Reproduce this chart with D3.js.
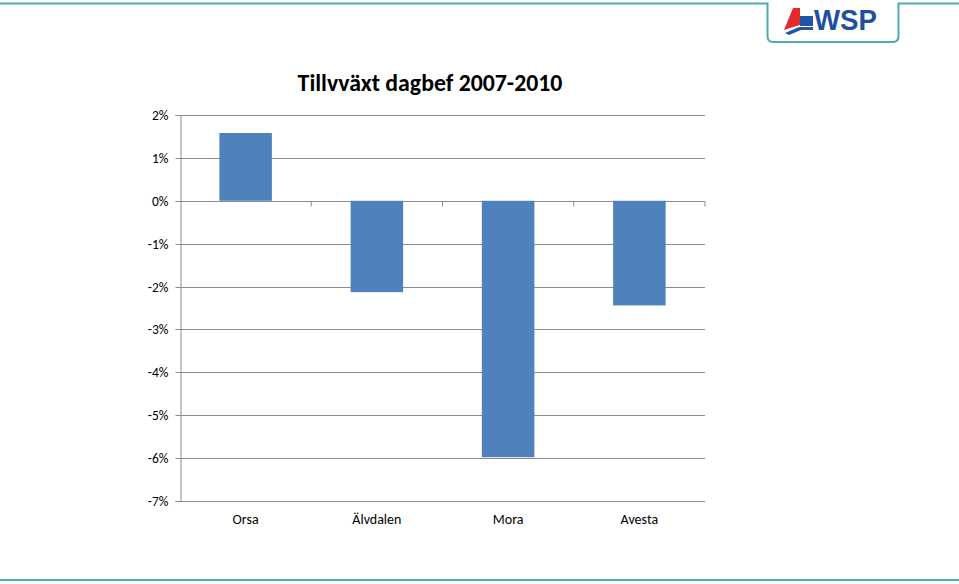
<!DOCTYPE html>
<html><head><meta charset="utf-8">
<script src="https://cdn.jsdelivr.net/npm/d3@7"></script>
<style>
body{margin:0;background:#fff;}
svg{display:block;font-family:Carlito,Lato,"Open Sans",sans-serif;}
</style></head>
<body><svg id="c" width="959" height="584"></svg>
<script>
const categories = ["Orsa","Älvdalen","Mora","Avesta"];
const values = [1.58, -2.13, -5.98, -2.44];
const yTicks = [2,1,0,-1,-2,-3,-4,-5,-6,-7];
const title = "Tillvväxt dagbef 2007-2010";

(function(){
const svg = d3.select("#c");
const pL=180, pR=705, pT=115, pB=501;
const x = d3.scaleBand().domain(categories).range([pL,pR]).paddingInner(0.6).paddingOuter(0.3);
const y = d3.scaleLinear().domain([-7,2]).range([pB,pT]);
const gridCol = "#8c8c8c";

// frame lines (top with logo tab, bottom)
const teal = "#4fa9b4";
svg.append("path").attr("d","M0,3.5 H767.5 V36 Q767.5,42 773,42 H893 Q898.5,42 898.5,36 V3.5 H959")
  .attr("fill","none").attr("stroke",teal).attr("stroke-width",2);
svg.append("line").attr("x1",0).attr("x2",959).attr("y1",580).attr("y2",580).attr("stroke",teal).attr("stroke-width",2);

// logo
const logo = svg.append("g");
logo.append("polygon").attr("points","784,30 793,8 800,8 800,25 790,28").attr("fill","#e32b2b");
logo.append("rect").attr("x",800).attr("y",16).attr("width",13).attr("height",10).attr("fill","#2156a5");
logo.append("polygon").attr("points","785,33 799,27 813,27 813,30 801,30 789,35").attr("fill","#2156a5");
logo.append("text").attr("x",814).attr("y",30).text("WSP").attr("font-family","'Liberation Sans',Arial,sans-serif")
  .attr("font-weight","bold").attr("font-size",30).attr("fill","#1f4f9f").attr("textLength",63).attr("lengthAdjust","spacingAndGlyphs");

// gridlines
svg.append("g").selectAll("line").data(yTicks).join("line")
  .attr("x1",pL).attr("x2",pR).attr("y1",d=>Math.round(y(d))+0.5).attr("y2",d=>Math.round(y(d))+0.5)
  .attr("stroke",gridCol).attr("stroke-width",1);

// y axis
const yAxis = svg.append("g").attr("transform",`translate(${pL+0.5},0)`)
  .call(d3.axisLeft(y).tickValues(yTicks).tickSize(5).tickPadding(7).tickFormat(d=>d+"%"));
yAxis.select(".domain").attr("stroke",gridCol);
yAxis.selectAll(".tick line").attr("stroke",gridCol);
yAxis.selectAll(".tick text").attr("font-family","Carlito,Lato,sans-serif").attr("font-size",13.5).attr("fill","#000");
yAxis.selectAll(".tick").attr("transform",d=>`translate(0,${Math.round(y(d))+0.5})`);

// bars
svg.append("g").selectAll("rect").data(values).join("rect")
  .attr("x",(d,i)=>x(categories[i]))
  .attr("width",x.bandwidth())
  .attr("y",d=>y(Math.max(0,d)))
  .attr("height",d=>Math.abs(y(d)-y(0)))
  .attr("fill","#4f81bd");

// category axis tick marks at zero
const step = (pR-pL)/categories.length;
const xAxis = svg.append("g").attr("transform",`translate(0,${Math.round(y(0))+0.5})`);
xAxis.selectAll("line").data(d3.range(1,categories.length+1)).join("line")
  .attr("x1",i=>pL+i*step).attr("x2",i=>pL+i*step).attr("y1",0).attr("y2",5).attr("stroke",gridCol);

// category labels at bottom
svg.append("g").selectAll("text").data(categories).join("text")
  .attr("x",d=>x(d)+x.bandwidth()/2).attr("y",524)
  .attr("text-anchor","middle").attr("font-size",14).attr("fill","#000").text(d=>d);

// title
const t = svg.append("text").attr("x",430).attr("y",91).attr("text-anchor","middle")
  .attr("font-weight","bold").attr("font-size",22).attr("fill","#000").text(title);
const w = t.node().getComputedTextLength();
t.attr("font-size",22*265/w);
})();
</script></body></html>
